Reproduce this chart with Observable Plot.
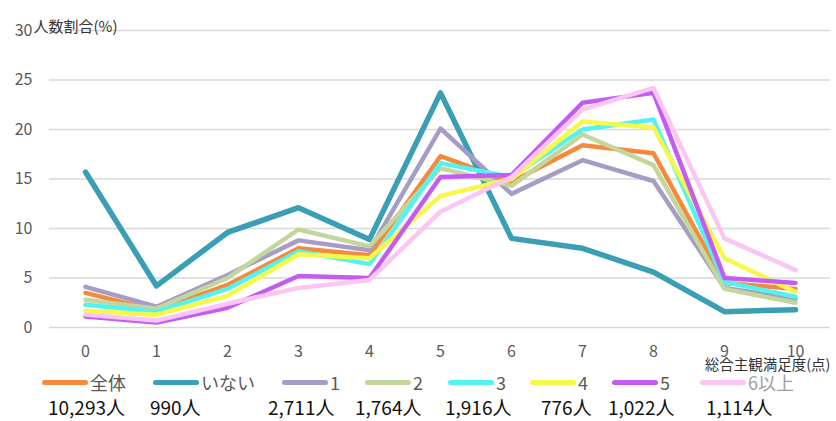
<!DOCTYPE html>
<html>
<head>
<meta charset="utf-8">
<script src="https://cdn.jsdelivr.net/npm/d3@7"></script>
<script src="https://cdn.jsdelivr.net/npm/@observablehq/plot@0.6"></script>
<style>
  body { margin: 0; background: #fff; font-family: "Noto Sans CJK JP", "Noto Sans", sans-serif; }
  #wrap { position: relative; width: 836px; height: 421px; overflow: hidden; }
  #chart svg { display: block; }
  .item { position: absolute; top: 371px; height: 22px; display: flex; align-items: center; font-size: 18px; line-height: 20px; color: #595959; white-space: nowrap; }
  .swatch { width: 46px; height: 5px; border-radius: 3px; margin-right: 2px; }
  .count { position: absolute; top: 396px; font-size: 19px; color: #111; white-space: nowrap; line-height: 22px; }
</style>
</head>
<body>
<div id="wrap"><div id="chart"></div></div>
<script>
// Overall subjective satisfaction score (0–10 points)
const scores = [0, 1, 2, 3, 4, 5, 6, 7, 8, 9, 10];
const yTicks = [0, 5, 10, 15, 20, 25, 30];

// Groups: everyone, and by number of people they can rely on
const seriesNames = ["全体", "いない", "1", "2", "3", "4", "5", "6以上"];
const respondents = ["10,293人", "990人", "2,711人", "1,764人", "1,916人", "776人", "1,022人", "1,114人"];
const seriesColors = ["#F58A3C", "#3A9FB4", "#A79CC6", "#C3D69C", "#55F2F2", "#F8F84A", "#C45CF2", "#FBC6F4"];

// Share of respondents at each score (%)
const overall  = [3.5, 1.7, 4.3, 8.0, 7.3, 17.3, 14.7, 18.4, 17.6, 4.5, 3.9];
const noOne    = [15.7, 4.2, 9.6, 12.1, 8.9, 23.7, 9.0, 8.0, 5.6, 1.6, 1.8];
const one      = [4.1, 2.1, 5.3, 8.8, 7.8, 20.1, 13.5, 16.9, 14.8, 4.0, 2.9];
const two      = [2.8, 1.9, 5.0, 9.9, 8.2, 16.1, 14.3, 19.5, 16.4, 3.9, 2.5];
const three    = [2.3, 1.6, 3.9, 7.7, 6.4, 16.6, 15.2, 20.0, 21.0, 4.6, 3.1];
const four     = [1.7, 1.3, 3.2, 7.4, 7.0, 13.3, 15.0, 20.8, 20.2, 7.0, 3.6];
const five     = [1.1, 0.5, 2.0, 5.2, 5.0, 15.2, 15.4, 22.7, 23.7, 5.0, 4.5];
const sixPlus  = [1.3, 0.7, 2.4, 4.0, 4.8, 11.7, 15.2, 22.0, 24.2, 9.0, 5.8];

const seriesValues = [overall, noOne, one, two, three, four, five, sixPlus];

const rows = seriesNames.flatMap((name, i) =>
  scores.map((s, j) => ({ series: name, score: s, value: seriesValues[i][j] }))
);

const fontFamily = '"Noto Sans CJK JP", "Noto Sans", sans-serif';

const chart = Plot.plot({
  width: 836,
  height: 372,
  marginLeft: 49,
  marginRight: 6,
  marginTop: 30,
  marginBottom: 45,
  style: { fontFamily, fontSize: "16px", color: "#595959", background: "white", overflow: "visible" },
  x: { type: "point", domain: scores, padding: 0.5, label: null },
  y: { domain: [0, 30], label: null },
  color: { domain: seriesNames, range: seriesColors },
  marks: [
    Plot.gridY(yTicks, { stroke: "#d9d9d9", strokeOpacity: 1, strokeWidth: 1.3 }),
    Plot.axisY(yTicks, { tickSize: 0, tickPadding: 17, label: null, fontSize: 16, fill: "#595959" }),
    Plot.axisX(scores, { tickSize: 0, tickPadding: 18, label: null, fontSize: 16, fill: "#595959" }),
    Plot.line(rows, {
      x: "score", y: "value", z: "series", stroke: "series",
      strokeWidth: (d) => (d.series === "いない" ? 5.5 : 4.5),
      strokeLinejoin: "round", strokeLinecap: "round"
    }),
    Plot.text(["人数割合(%)"], {
      frameAnchor: "top-left", textAnchor: "start", dx: -16, dy: -9,
      fontSize: 15, fill: "#333"
    }),
    Plot.text(["総合主観満足度(点)"], {
      frameAnchor: "bottom-right", textAnchor: "end", dx: 0, dy: 42,
      fontSize: 14.5, fill: "#333"
    })
  ]
});
document.getElementById("chart").append(chart);

// Legend: swatch + group name, with respondent counts underneath
const wrap = document.getElementById("wrap");
const itemLeft = [42, 153, 282, 365, 448, 530, 612, 700];
const countLeft = [48, 150, 268, 355, 445, 541, 608, 706];
seriesNames.forEach((name, i) => {
  const item = document.createElement("div");
  item.className = "item";
  item.style.left = itemLeft[i] + "px";
  const sw = document.createElement("span");
  sw.className = "swatch";
  sw.style.background = seriesColors[i];
  const lab = document.createElement("span");
  lab.textContent = name;
  if (i === seriesNames.length - 1) lab.style.color = "#a0a0a0";
  item.append(sw, lab);
  wrap.append(item);

  const c = document.createElement("div");
  c.className = "count";
  c.style.left = countLeft[i] + "px";
  c.textContent = respondents[i];
  wrap.append(c);
});
</script>
</body>
</html>
